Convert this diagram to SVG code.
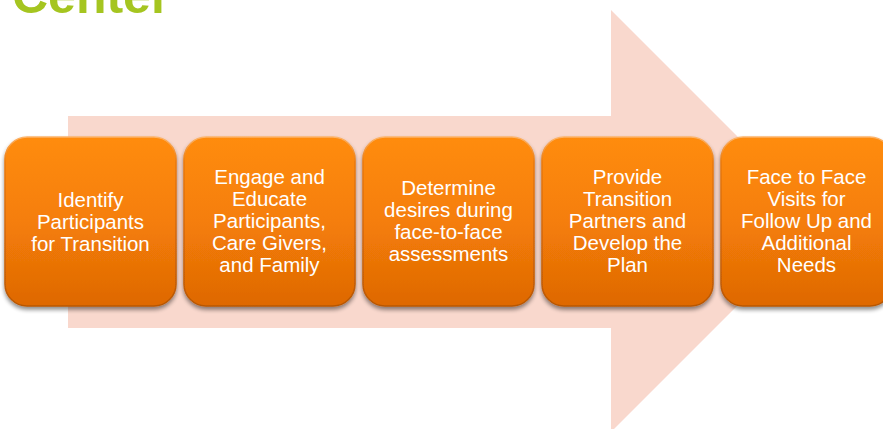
<svg xmlns="http://www.w3.org/2000/svg" width="883" height="429" viewBox="0 0 883 429">
  <defs>
    <linearGradient id="boxFill" x1="0" y1="0" x2="0" y2="1">
      <stop offset="0" stop-color="#FF8C0E"/>
      <stop offset="0.5" stop-color="#F57E08"/>
      <stop offset="1" stop-color="#DE6804"/>
    </linearGradient>
    <linearGradient id="boxEdge" x1="0" y1="0" x2="0" y2="1">
      <stop offset="0" stop-color="#FDB46A"/>
      <stop offset="0.15" stop-color="#E8790C"/>
      <stop offset="1" stop-color="#B85606"/>
    </linearGradient>
    <filter id="shadow" x="-10%" y="-10%" width="120%" height="125%">
      <feGaussianBlur in="SourceAlpha" stdDeviation="2"/>
      <feOffset dy="3" result="b"/>
      <feComponentTransfer><feFuncA type="linear" slope="0.45"/></feComponentTransfer>
      <feMerge><feMergeNode/><feMergeNode in="SourceGraphic"/></feMerge>
    </filter>
  </defs>
  <style>
    .box { fill: url(#boxFill); stroke: url(#boxEdge); stroke-width: 1.5; filter: url(#shadow); }
    .label { fill: #FFFFFF; font-family: "Liberation Sans", Arial, sans-serif; font-size: 20.5px; text-anchor: middle; }
    .title { fill: #A5C520; font-family: "Liberation Sans", Arial, sans-serif; font-size: 50px; font-weight: bold; }
  </style>

  <text class="title" x="12" y="13">Center</text>

  <!-- background process arrow -->
  <polygon id="flow-arrow" points="68,116 611,116 611,10 822,221 611,432 611,328 68,328" fill="#F9D8CD"/>

  <g id="step1">
    <rect class="box" x="5" y="137" width="171" height="169" rx="22"/>
    <text class="label" x="90.5" y="207">Identify</text>
    <text class="label" x="90.5" y="229">Participants</text>
    <text class="label" x="90.5" y="251">for Transition</text>
  </g>
  <g id="step2">
    <rect class="box" x="184" y="137" width="171" height="169" rx="22"/>
    <text class="label" x="269.5" y="184">Engage and</text>
    <text class="label" x="269.5" y="206">Educate</text>
    <text class="label" x="269.5" y="228">Participants,</text>
    <text class="label" x="269.5" y="250">Care Givers,</text>
    <text class="label" x="269.5" y="272">and Family</text>
  </g>
  <g id="step3">
    <rect class="box" x="363" y="137" width="171" height="169" rx="22"/>
    <text class="label" x="448.5" y="195">Determine</text>
    <text class="label" x="448.5" y="217">desires during</text>
    <text class="label" x="448.5" y="239">face-to-face</text>
    <text class="label" x="448.5" y="261">assessments</text>
  </g>
  <g id="step4">
    <rect class="box" x="542" y="137" width="171" height="169" rx="22"/>
    <text class="label" x="627.5" y="184">Provide</text>
    <text class="label" x="627.5" y="206">Transition</text>
    <text class="label" x="627.5" y="228">Partners and</text>
    <text class="label" x="627.5" y="250">Develop the</text>
    <text class="label" x="627.5" y="272">Plan</text>
  </g>
  <g id="step5">
    <rect class="box" x="721" y="137" width="171" height="169" rx="22"/>
    <text class="label" x="806.5" y="184">Face to Face</text>
    <text class="label" x="806.5" y="206">Visits for</text>
    <text class="label" x="806.5" y="228">Follow Up and</text>
    <text class="label" x="806.5" y="250">Additional</text>
    <text class="label" x="806.5" y="272">Needs</text>
  </g>
  <g id="connectors"/>
</svg>
